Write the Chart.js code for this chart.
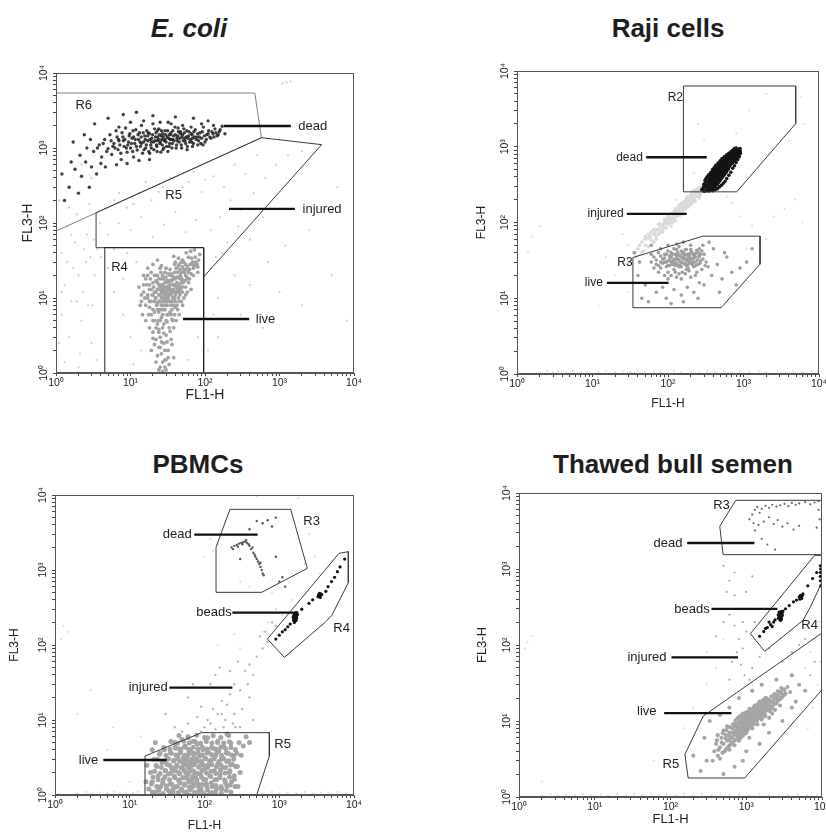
<!DOCTYPE html>
<html>
<head>
<meta charset="utf-8">
<script src="https://cdn.jsdelivr.net/npm/chart.js@4.4.1/dist/chart.umd.min.js"></script>
<style>
  body { margin: 0; width: 826px; height: 832px; background: #fff; position: relative; overflow: hidden;
         font-family: "Liberation Sans", Arial, sans-serif; }
  .title { position: absolute; font-weight: bold; font-size: 26px; line-height: 1; color: #1e1e1e;
           white-space: nowrap; transform: translateX(-50%); }
  canvas { position: absolute; }
</style>
</head>
<body>
<div class="title" style="left:189px;top:15px;font-style:italic">E. coli</div>
<div class="title" style="left:668px;top:15px">Raji cells</div>
<div class="title" style="left:198px;top:451px">PBMCs</div>
<div class="title" style="left:673px;top:451px">Thawed bull semen</div>
<canvas id="c1"></canvas>
<canvas id="c2"></canvas>
<canvas id="c3"></canvas>
<canvas id="c4"></canvas>
<script>
// axis ticks (both axes are FL1-H / FL3-H, log 10^0 .. 10^4)
const decades = [1, 10, 100, 1000, 10000];
const tickLabels = ['10\u2070', '10\u00b9', '10\u00b2', '10\u00b3', '10\u2074'];
const tickValues = [1,2,3,4,5,6,7,8,9,10,20,30,40,50,60,70,80,90,100,200,300,400,500,600,700,800,900,
  1000,2000,3000,4000,5000,6000,7000,8000,9000,10000];

// ---------- E. coli ----------
const ecoliDead = [[3.2,900],[3.8,1100],[4.1,760],[4.5,1300],[5,980],[5.3,1500],[5.6,820],[6,1150],[6.4,1700],[6.8,950],
  [7,1250],[7.5,700],[7.9,1400],[8.2,1050],[8.6,1850],[9,880],[9.4,1200],[9.8,1550],[10,1000],[10.5,1350],[11,760],
  [11.4,1150],[11.8,1750],[12.3,940],[12.8,1300],[13.2,1600],[13.6,1050],[14,2000],[14.5,850],[15,1200],[15.5,1450],
  [16,1000],[16.5,1700],[17,1250],[17.6,900],[18,1550],[18.7,1100],[19.3,1350],[20,2100],[20.6,950],[21.3,1250],
  [22,1600],[22.6,1050],[23.3,1400],[24,1800],[24.8,1150],[25.5,880],[26.3,1300],[27,1550],[28,1000],[29,1700],
  [30,1200],[31,1400],[32,2200],[33,1050],[34,1300],[35,1600],[36.5,1150],[38,1450],[39.5,1900],[41,1000],[42.5,1250],
  [44,1650],[46,1350],[48,1100],[50,1500],[52,1800],[54,1250],[56,1400],[58,1050],[61,1650],[64,1300],[67,1500],
  [70,1150],[74,1750],[78,1400],[82,1250],[86,1600],[90,1350],[95,1900],[100,1200],[106,1500],[112,1700],[120,1350],
  [128,1550],[136,1800],[145,1450],[155,1650],[170,1950],[185,1550],[8,1250],[11,1400],[14,1150],[17,1450],[19,1200],
  [23,1250],[26,1450],[29,1300],[33,1500],[37,1300],[43,1450],[47,1550],[53,1350],[60,1450],[66,1200],[72,1400],
  [5.5,1250],[6.2,1000],[6.6,1400],[7.2,1100],[7.7,1600],[8.4,1300],[8.8,1000],[9.6,1450],[10.3,1150],[10.8,1700],
  [11.6,1300],[12,1050],[12.6,1500],[13.4,1200],[13.9,1400],[14.8,1600],[15.8,1300],[16.3,1100],[17.3,1600],
  [18.3,1300],[19,1000],[19.8,1500],[20.3,1200],[21,1800],[21.7,1400],[22.3,1100],[23,1700],[23.8,1300],[24.5,1500],
  [25.2,1200],[26,1700],[26.7,1100],[27.5,1400],[28.5,1250],[29.5,1500],[30.5,1050],[31.5,1700],[32.5,1350],
  [33.5,1150],[34.5,1500],[35.5,1300],[37,1700],[38.5,1250],[40,1500],[42,1350],[43.5,1850],[45,1200],[47,1650],
  [49,1400],[51,1250],[53,1600],[55,1150],[57,1700],[59,1350],[62,1200],[65,1550],[68,1350],[71,1650],[76,1300],
  [80,1550],[84,1400],[88,1150],[92,1650],[98,1450],[104,1300],[110,1550],[116,1400],[124,1650],[132,1400],
  [140,1600],[150,1500],[160,1750],[3.6,1000],[4.3,1150],[4.8,900],[5.8,1050],[6.9,1300],[7.4,850],[9.2,1100],
  [10.7,900],[15.2,950],[18.1,850],[22.8,900],[27.2,950],[31.8,900],[36,1000],[41.5,1100],[48.5,1000],[57.5,950],
  [68,1050],[80,1100],[94,1100],[7,1900],[10,2200],[15,2300],[25,2200],[35,2100],[50,2000],[65,1900],[90,2100],
  [130,2000],[1.5,300],[1.8,520],[2.2,420],[2.5,650],[2.8,300],[2.1,800],[2.6,1000],[3,560],[3.5,450],[4,620],
  [1.3,200],[1.7,1200],[2.4,1500],[3.3,2100],[5,2500],[8,2800],[12,3000],[20,2700],[40,2600],[70,2500],[110,2300],
  [4.6,560],[6.5,600],[9,620],[13,680],[18,700],[2,250],[1.6,650],[1.2,450],[2.9,1300]];
const ecoliLive = [[15,12],[16,8],[16.5,15],[17,10],[17.5,6],[18,13],[18.5,18],[19,9],[19.5,11],[20,7],[20.5,14],
  [21,20],[21.5,10],[22,12],[22.5,8],[23,16],[23.5,5],[24,11],[24.5,13],[25,9],[25.5,22],[26,12],[26.5,7],[27,15],
  [27.5,10],[28,18],[28.5,11],[29,13],[29.5,8],[30,25],[30.5,12],[31,14],[32,10],[33,17],[34,12],[35,21],[36,9],
  [37,15],[38,13],[39,28],[40,11],[42,19],[44,14],[46,24],[48,16],[50,12],[52,30],[55,20],[58,26],[62,18],[66,34],
  [70,25],[75,30],[80,22],[85,38],[18,4],[20,3.5],[22,2.8],[23,4.5],[24,2.2],[25,3],[26,1.8],[27,4],[28,2.5],
  [29,1.5],[30,3.2],[32,2],[33,1.3],[35,2.8],[38,1.6],[21,5],[26,5.5],[31,4.8],[36,5.2],[19,6],[24,6.5],[28,7],
  [34,6.5],[40,7.5],[45,9],[14,9],[13,14],[15,20],[17,25],[20,28],[23,32],[26,27],[25,1.2],[22,1.4],[30,1.1],
  [21,9],[23,13],[25,11],[27,8],[29,12],[31,9],[33,14],[35,11],[24,15],[28,14],[32,16],[26,18],[30,19],[34,20],
  [22,17],[36,17],[38,19],[40,15],[43,22],[47,20],[20,11],[18,15],[19,22],[27,11.5],[29,9.5],[25,7],[31,6],[35,8],
  [39,10],[42,12],[17,11],[18,9],[19,13],[20,16],[21,12],[22,10],[23,8.5],[23,20],[24,9],[24,18],[25,14],[25,25],
  [26,10],[26,15],[27,13],[27,20],[28,9],[28,12],[29,16],[29,22],[30,10],[30,14],[31,11],[31,17],[32,13],[32,21],
  [33,9],[33,11],[34,15],[34,24],[35,13],[35,17],[36,12],[36,20],[37,10],[37,18],[38,15],[39,12],[39,22],[40,18],
  [41,14],[41,25],[42,16],[43,13],[44,19],[44,27],[45,15],[46,18],[47,13],[48,22],[49,18],[50,26],[51,16],[53,22],
  [54,17],[56,24],[57,19],[60,22],[63,28],[65,21],[68,30],[72,27],[20,5],[21,6.5],[22,4],[23,7],[24,3.5],[25,5],
  [26,8],[27,6],[28,4.5],[29,7],[30,5],[31,8],[32,6],[33,4],[34,9],[35,6],[36,7],[37,5],[38,8],[39,6],[40,9],
  [42,8],[44,10],[46,11],[48,9],[50,14],[19,2],[21,2.4],[23,1.7],[24,3.8],[26,2.6],[27,1.4],[28,3.4],[29,2],
  [31,2.6],[32,1.6],[34,3.6],[36,2.4],[20,2.9],[25,2.2],[30,1.5],[27,1.05],[24,1.1],[29,1.2],[45,28],[50,32],
  [55,28],[60,35],[52,24],[58,18],[62,24],[66,28],[70,20],[74,35],[78,28],[82,32],[48,30],[44,34],[40,30],[38,36],
  [56,40],[64,42],[72,44],[80,26],[45,12],[50,17],[55,14],[60,16],[65,13],[52,10],[58,12],[14,11],[13.5,8],[15,15],
  [14.5,6],[16,18],[15.5,10],[17,20],[16,5],[18,7.5],[45,6],[50,8],[55,11],[43,7],[38,4],[41,5],[47,14]];
const ecoliBg = [[1.1,2.5],[1.2,6],[1.3,15],[1.2,40],[1.4,90],[1.1,200],[1.5,3],[1.6,9],[1.7,25],[1.8,55],[1.9,130],
  [2.1,1.8],[2.2,5],[2.3,12],[2.5,30],[2.6,70],[2.8,180],[3,2.5],[3.1,8],[3.3,20],[3.6,45],[3.9,100],[1.3,1.4],
  [2,1.2],[3.5,1.5],[5,70],[7,100],[10,80],[14,120],[20,65],[28,95],[40,140],[55,75],[75,110],[6,200],[9,160],
  [13,250],[19,200],[27,300],[38,220],[60,350],[90,260],[130,420],[180,300],[250,600],[350,450],[500,800],[120,80],
  [160,120],[220,200],[300,150],[450,250],[650,400],[900,600],[1300,800],[2000,900],[140,35],[200,55],[280,90],
  [400,60],[600,120],[120,25],[170,40],[150,10],[250,20],[400,15],[700,30],[1200,50],[2500,80],[4000,150],
  [6000,300],[150,3],[300,6],[600,4],[1000,12],[2000,8],[5000,20],[8000,5],[60,1.5],[80,3],[110,2],[130,6],[10,3],
  [8,6],[6,12],[12,30],[9,40],[11,1.3],[14,2],[1100,7300],[1250,7500],[1400,7700],[1.2,12],[1.4,30],[1.6,70],
  [2,20],[2.4,45],[2.7,8],[3.2,60],[1.5,160],[1.9,9],[2.9,35],[7,250],[11,180],[16,350],[24,260],[34,400],[50,300],
  [70,480],[100,380],[6,45],[5,25],[8,18],[4,35],[3,400],[2.2,600]];
const ecoliR6 = [[1,5410],[466,5410],[573,1373],[1,78]];
const ecoliR5 = [[3.45,137],[573,1373],[3672,1108],[95.9,19.1],[95.9,46.9],[3.45,46.9]];
const ecoliR4 = [[4.52,1],[4.52,46.9],[95.9,46.9],[95.9,1]];

// ---------- Raji cells ----------
const rajiDead = [[280,270],[300,290],[310,260],[320,300],[330,280],[340,320],[350,300],[355,270],[360,340],[370,310],
  [375,290],[380,360],[390,330],[395,300],[400,380],[405,350],[410,320],[415,400],[420,370],[425,340],[430,420],
  [435,390],[440,360],[445,440],[450,410],[455,380],[460,460],[465,430],[470,400],[480,480],[485,450],[490,420],
  [500,500],[510,470],[520,440],[530,520],[540,490],[550,460],[560,540],[570,510],[580,560],[600,530],[610,580],
  [620,600],[640,560],[650,620],[670,650],[690,620],[700,700],[720,680],[740,750],[760,720],[780,800],[800,780],
  [820,850],[840,820],[860,900],[880,870],[900,950],[830,760],[750,800],[700,640],[650,700],[380,420],[350,380],
  [420,300],[480,380],[520,540],[460,500],[400,440],[440,480],[500,420],[560,500],[600,600],[360,300],[330,350],
  [300,320],[420,440],[470,460],[500,560],[540,600],[580,500],[620,540],[450,330],[390,270],[410,440],[430,380],
  [455,420],[475,440],[510,500],[530,460],[680,720],[720,620],[860,820],[900,870],[800,700],[820,920],[395,360],
  [415,365],[435,410],[445,395],[465,415],[485,470],[505,455],[525,480],[545,520],[445,350],[425,385],[320,380],
  [340,400],[360,420],[380,450],[400,480],[420,510],[440,540],[460,570],[350,260],[370,270],[390,290],[410,300],
  [430,310],[450,320],[470,340],[490,360],[510,380],[530,400],[550,420],[570,440],[590,460],[610,490],[630,510],
  [360,380],[380,400],[400,410],[420,420],[440,430],[460,440],[480,450],[500,470],[520,490],[400,330],[410,350],
  [440,390],[460,390],[480,410],[500,440],[520,460],[540,470],[560,480],[580,520],[600,550],[640,600],[660,580],
  [700,660],[740,700],[780,740],[820,800],[760,830],[720,760],[680,680],[430,470],[470,520],[510,550],[550,580],
  [450,460],[490,500],[530,540],[380,330],[410,380],[450,430],[470,480],[390,400],[420,350],[360,360],[340,340],
  [330,300],[300,300],[310,330],[290,280],[370,420],[400,460],[460,520],[500,520],[300,258],[330,262],[360,265],
  [390,262],[420,270],[450,280],[480,295],[510,310],[540,330],[570,350],[600,380],[640,420],[680,460],[720,520],
  [760,560],[800,620],[840,680],[880,740],[310,360],[330,400],[350,430],[370,460],[390,500],[410,530],[430,570],
  [460,610],[490,650],[520,700],[560,740],[600,780],[640,820],[680,860],[720,900],[760,950],[350,320],[370,345],
  [390,370],[410,395],[450,450],[490,470],[510,490],[530,510],[550,500],[570,530],[590,580],[620,620],[660,640],
  [700,720],[740,780],[780,820],[820,820],[850,860],[880,800],[900,880],[860,780],[840,900],[880,930],[910,820],
  [550,550],[570,575],[590,545],[610,610],[630,580],[650,660],[670,610],[690,690],[710,650],[730,730],[750,690],
  [770,770],[790,740],[810,830],[830,790],[560,600],[580,620],[600,640],[620,660],[640,690],[660,720],[680,750],
  [700,780],[720,810],[740,840],[560,470],[580,490],[600,500],[620,520],[640,540],[660,560],[680,590],[700,610],
  [720,640],[740,660],[760,680],[780,700],[800,730],[620,570],[660,610],[700,650],[740,690],[780,730],[820,770],
  [600,570],[640,630],[680,670],[720,710],[760,750],[800,800],[840,840],[520,520],[540,560],[480,500],[460,470],
  [500,510],[440,450],[420,410],[470,490],[350,425],[375,450],[400,485],[425,505],[450,545],[475,570],[500,600],
  [525,635],[550,660],[575,690],[600,725],[625,750],[650,780],[675,805],[700,840],[725,870],[750,900],[775,930],
  [800,960],[350,305],[375,330],[400,350],[425,375],[450,395],[475,420],[500,440],[525,460],[550,485],[575,505],
  [600,530],[625,550],[650,570],[675,595],[700,615],[725,640],[750,660],[775,680],[800,705],[825,725],[850,745],
  [365,400],[390,430],[415,460],[440,500],[465,520],[490,555],[515,575],[540,610],[565,630],[590,665],[615,690],
  [640,720],[665,745],[690,775],[715,800],[740,830],[765,860]];
const rajiInjured = [[40,45],[45,55],[50,50],[55,62],[60,58],[65,70],[70,66],[75,80],[80,74],[85,90],[90,85],[95,100],
  [100,95],[110,110],[115,100],[120,125],[130,120],[135,140],[140,130],[150,150],[155,140],[160,165],[170,160],
  [175,180],[180,170],[190,195],[200,185],[210,210],[220,200],[230,230],[240,220],[250,250],[260,240],[270,270],
  [280,255],[300,290],[110,90],[125,105],[145,125],[165,150],[185,160],[205,175],[90,100],[105,120],[130,150],
  [150,175],[175,205],[200,230],[60,75],[75,95],[220,250],[250,280],[270,230],[160,130],[180,210],[140,160],
  [120,140],[100,110],[85,75],[70,80],[55,48],[50,65],[65,55],[300,330],[320,270],[240,260],[210,240],[195,215],
  [230,190],[260,210],[45,40],[50,60],[55,70],[60,50],[65,80],[70,60],[75,70],[80,95],[85,80],[90,110],[95,85],
  [100,120],[105,100],[110,130],[115,115],[120,110],[125,150],[130,135],[135,125],[140,170],[145,145],[150,135],
  [155,180],[160,150],[165,190],[170,175],[175,160],[180,220],[185,190],[190,170],[200,210],[205,240],[210,190],
  [215,260],[220,230],[225,210],[230,270],[240,250],[250,220],[260,290],[270,250],[280,300],[290,270],[310,310],
  [330,300],[340,350],[350,320],[35,40],[30,30],[38,35],[42,50],[48,42],[58,65],[68,75],[78,85],[88,95],[98,105],
  [108,115],[118,128],[128,140],[138,150],[148,160],[158,170],[168,182],[178,195],[188,205],[198,220]];
const rajiLive = [[60,30],[65,35],[70,28],[75,40],[80,25],[85,33],[90,38],[95,30],[100,22],[100,42],[105,27],[110,35],
  [115,31],[120,24],[120,45],[125,38],[130,29],[135,33],[140,26],[140,48],[145,36],[150,30],[155,22],[160,40],
  [165,34],[170,28],[175,44],[180,31],[185,25],[190,37],[200,29],[205,41],[210,33],[220,26],[225,36],[230,30],
  [240,43],[250,28],[260,35],[270,31],[280,24],[300,38],[320,30],[340,26],[110,20],[130,19],[150,18],[170,21],
  [200,19],[90,20],[80,45],[100,50],[130,52],[160,55],[200,50],[240,22],[260,45],[290,50],[115,28],[125,32],
  [135,27],[145,30],[155,34],[165,29],[175,32],[185,35],[195,31],[215,30],[105,33],[95,26],[70,32],[75,27],[80,36],
  [85,29],[90,34],[95,38],[100,31],[105,36],[110,30],[115,38],[120,33],[125,27],[130,36],[135,40],[140,32],[145,27],
  [150,35],[155,39],[160,29],[165,37],[170,33],[175,27],[180,38],[185,33],[190,29],[195,39],[200,34],[210,28],
  [215,38],[220,34],[230,39],[235,27],[245,32],[255,36],[265,29],[120,29],[130,33],[140,37],[150,26],[160,33],
  [170,38],[180,27],[190,34],[110,40],[100,27],[90,30],[80,30],[150,42],[170,44],[130,44],[200,44],[230,35],
  [270,38],[290,33],[310,27],[100,18],[140,21],[190,23],[230,20],[75,22],[65,25],[60,38],[250,40],[280,42],
  [125,22],[175,24],[40,20],[45,10],[50,15],[55,9],[70,12],[85,14],[95,10],[120,13],[150,11],[180,14],[220,12],
  [260,16],[300,15],[380,20],[450,28],[520,18],[600,35],[700,22],[900,25],[1100,30],[400,45],[480,12],[36,40],
  [42,30],[60,50],[350,55],[560,40],[800,15],[1300,45],[160,9],[110,8.5],[250,10]];
const rajiBg = [[2,1.05],[2.5,1.1],[3,1.05],[3.5,1.08],[4.5,1.05],[5.5,1.1],[7,1.05],[8.5,1.08],[12,1.05],[15,1.1],
  [20,1.05],[25,1.08],[32,1.05],[40,1.1],[50,1.05],[65,1.08],[80,1.05],[120,1.1],[150,1.05],[200,1.08],[260,1.05],
  [330,1.1],[420,1.05],[550,1.08],[700,1.05],[900,1.1],[1200,1.05],[1600,1.08],[2000,1.05],[2800,1.1],[3600,1.05],
  [4500,1.08],[6000,1.05],[8000,1.1],[1.6,65],[1.4,40],[2,90],[18,110],[25,70],[30,50],[600,220],[700,180],
  [900,120],[1300,90],[2000,60],[1100,45],[2500,120],[3500,150],[4800,200],[6000,100],[800,1500],[1200,3000],
  [2000,5000],[5800,4500],[6300,2000],[4000,1200],[300,1200],[250,2000],[200,700],[220,450],[160,300],[130,200],
  [30,12],[20,20],[15,35],[12,8],[8,15]];
const rajiR2 = [[160,6340],[4910,6340],[4910,2022],[814,254],[160,254]];
const rajiR3 = [[34.3,34.5],[289,66],[1657,66],[1657,28.2],[505,7.5],[34.3,7.5]];

// ---------- PBMCs ----------
const pbmcLive = [[18,1.2],[19,2],[20,1.5],[21,3],[22,1.1],[23,2.4],[24,1.8],[25,3.5],[26,1.3],[27,2.7],[28,1.6],[29,4],
  [30,2.1],[31,1.2],[32,3],[33,1.9],[34,2.5],[35,1.4],[36,3.6],[37,2.2],[38,1.1],[39,2.9],[40,1.7],[41,4.2],[42,2.4],
  [43,1.3],[44,3.2],[45,2],[46,1.5],[47,2.8],[48,3.8],[49,1.2],[50,2.3],[51,1.7],[52,3.1],[53,2.6],[54,1.4],[55,4.5],
  [56,2],[57,1.1],[58,2.9],[59,1.8],[60,3.4],[61,2.3],[62,1.5],[63,2.7],[64,1.2],[65,3.9],[66,2.1],[67,1.6],[68,3],
  [69,2.5],[70,1.3],[72,3.6],[74,2],[76,1.7],[78,2.8],[80,4.8],[82,1.4],[84,2.4],[86,3.3],[88,1.9],[90,1.2],[92,2.7],
  [95,4],[98,1.6],[100,2.2],[103,3.1],[106,1.4],[110,2.5],[114,3.7],[118,1.8],[122,2.9],[126,1.3],[130,4.2],[135,2.1],
  [140,3.3],[145,1.6],[150,2.6],[156,3.9],[162,1.9],[168,3],[175,2.3],[182,4.4],[190,1.5],[198,2.8],[206,3.6],[215,2],
  [225,4.9],[235,2.6],[245,3.3],[260,4],[275,2.4],[290,5],[310,3.4],[25,1],[45,1],[65,1],[85,1],[105,1],[35,1.05],
  [55,1.05],[75,1.05],[95,1.05],[120,1.05],[140,1.1],[170,1.2],[200,1.3],[230,1.5],[40,5],[50,5.5],[60,6],[70,5.2],
  [110,5.8],[150,5],[200,6.5],[20,4],[22,5],[17,2.5],[16.5,1.5],[300,2],[330,4.5],[360,6],[400,5],[250,1.8],[280,1.3],
  [20,1.1],[24.5,1.16],[28,1.05],[33.5,1.13],[38,1.2],[44.5,1.08],[50,1.15],[57.5,1.04],[65,1.18],[74,1.09],
  [84.5,1.14],[96,1.06],[110,1.17],[127,1.08],[145,1.2],[168,1.06],[196,1.15],[226,1.1],[19.5,1.4],[23,1.3],
  [27.5,1.44],[31,1.33],[36.5,1.39],[41,1.28],[47.5,1.45],[54,1.35],[62.5,1.29],[71,1.42],[81.5,1.31],[93,1.38],
  [107,1.3],[124,1.46],[142,1.34],[166,1.29],[190,1.44],[221,1.36],[256,1.3],[20.5,1.72],[24,1.6],[29.5,1.75],
  [34,1.6],[39.5,1.78],[45,1.58],[52.5,1.7],[60,1.62],[69.5,1.77],[79,1.58],[91.5,1.73],[104,1.61],[120.5,1.76],
  [138,1.6],[160.5,1.71],[186,1.58],[216,1.74],[251,1.62],[21.5,2.08],[25.5,1.93],[30,2.12],[35.5,1.95],[40.5,2.1],
  [46.5,1.92],[53,2.14],[61.5,1.98],[70.5,2.1],[80.5,1.94],[92.5,2.12],[106.5,1.96],[122.5,2.08],[141.5,1.93],
  [163.5,2.15],[188.5,1.97],[218.5,2.1],[22.5,2.5],[26.5,2.33],[31.5,2.55],[36,2.35],[42.5,2.5],[48.5,2.3],
  [55.5,2.52],[63,2.36],[72.5,2.55],[83.5,2.34],[95.5,2.5],[109.5,2.32],[125.5,2.54],[144.5,2.38],[166.5,2.5],
  [192.5,2.33],[222.5,2.52],[261,2.4],[23.5,3],[28.5,2.82],[33,3.05],[38.5,2.84],[44,3.02],[51.5,2.8],[58.5,3.06],
  [67.5,2.85],[77.5,3.04],[88.5,2.82],[101.5,3.05],[116.5,2.84],[134.5,3.02],[155.5,2.8],[180.5,3.06],[210.5,2.86],
  [246,3.02],[25.5,3.62],[30.5,3.4],[35,3.66],[41.5,3.42],[47.5,3.62],[54.5,3.4],[62,3.65],[71.5,3.44],[82.5,3.64],
  [94.5,3.41],[108.5,3.63],[125,3.43],[145.5,3.65],[168.5,3.4],[195.5,3.62],[230.5,3.42],[270.5,3.6],[28.5,4.3],
  [34.5,4.08],[40.5,4.35],[46.5,4.1],[53.5,4.32],[61,4.08],[70.5,4.34],[81.5,4.1],[93.5,4.33],[107.5,4.1],
  [123.5,4.3],[142.5,4.08],[165.5,4.35],[192.5,4.12],[225.5,4.3],[35.5,5.15],[43.5,4.9],[52.5,5.2],[62.5,4.92],
  [74.5,5.18],[88.5,4.9],[105.5,5.16],[125.5,4.92],[150.5,5.2],[180.5,4.95],[215.5,5.12],[45.5,6.2],[60.5,5.8],
  [78.5,6.25],[100.5,5.85],[130.5,6.15],[165.5,5.85],[210.5,6.2]];
const pbmcInjured = [[40,8],[60,9],[80,11],[110,10],[130,14],[150,12],[90,15],[170,18],[200,16],[220,22],[120,30],
  [140,40],[250,30],[300,25],[350,45],[400,55],[450,40],[500,70],[600,90],[700,110],[250,12],[180,8],[320,14],
  [280,60],[220,45],[380,30],[550,130],[650,150],[800,200],[900,180],[400,20],[60,20],[70,30],[30,12],[160,50],
  [260,8],[450,10],[50,7],[100,8],[140,7.5],[190,10],[240,9],[300,8],[90,7],[120,9],[170,12]];
const pbmcBeads = [[1550,215],[1580,230],[1600,245],[1620,220],[1640,235],[1660,250],[1680,228],[1700,240],[1610,205],
  [1650,210],[1700,260],[1720,270],[1590,200],[1630,258],[1570,250],[1750,255],[1680,212],[1540,235],[1660,268],
  [1620,232],[1640,245],[1600,225],[1700,225],[3300,440],[3400,470],[3500,455],[3600,480],[3700,470],[3450,490],
  [3550,430],[3350,455],[1200,160],[1300,175],[1400,190],[1000,135],[2000,300],[2500,360],[2800,400],[4500,600],
  [5500,800],[6500,1100],[7500,1400],[5000,700],[6000,950],[900,120],[1100,150],[4200,520]];
const pbmcDead = [[230,2000],[250,2100],[270,2150],[290,2250],[310,2300],[330,2350],[350,2400],[370,2300],[390,2200],
  [360,2500],[400,2100],[420,1900],[450,1700],[470,1600],[500,1400],[520,1300],[540,1200],[560,1100],[580,1000],
  [600,900],[620,850],[240,1900],[280,2050],[320,2200],[440,2000],[480,1500],[560,1250],[300,1400],[500,4500],
  [600,4200],[700,4600],[800,3800],[900,5000],[400,3500],[1000,700],[1100,800],[1200,600],[900,1500]];
const pbmcBg = [[2,1.05],[2.6,1.1],[3.2,1.05],[4,1.08],[5,1.05],[6.2,1.1],[7.5,1.05],[9,1.08],[11,1.05],[13,1.1],
  [600,1.05],[800,1.1],[1000,1.05],[1300,1.08],[1700,1.05],[2200,1.1],[2800,1.05],[3600,1.08],[4600,1.05],[6000,1.1],
  [7800,1.05],[1.3,180],[1.5,150],[1.2,120],[3,25],[2,12],[5,4],[6,8],[10,1.5],[12,3],[14,6],[100,1500],[130,1800],
  [150,2200],[120,2600],[1800,9000],[500,9500],[300,700],[400,600],[800,500],[1500,400],[2500,3000],[3000,1500],
  [3500,900],[900,300],[1100,250],[2200,1200],[600,150],[700,200],[250,140],[150,100],[300,90]];
const pbmcR3 = [[219,6440],[1422,6440],[2377,1052],[582,504],[142.6,504],[142.6,2005]];
const pbmcR4 = [[693,120],[6300,1668],[8400,1755],[8400,678],[5024,246],[4093,200],[1170,68.5]];
const pbmcR5 = [[16,1],[16,3.31],[91.6,6.78],[737,6.78],[737,3.31],[499,1]];

// ---------- Thawed bull semen ----------
const thawLive = [[380,4],[400,5],[420,3.5],[450,4.5],[470,6],[500,5],[520,4],[540,6.5],[560,5.5],[580,4.6],[600,7],
  [620,6],[640,5.2],[660,8],[680,6.8],[700,5.6],[720,7.5],[740,9],[760,6.4],[780,8.2],[800,7],[820,9.8],[840,6],
  [860,8.6],[880,7.4],[900,10.5],[920,8],[940,9.2],[960,6.8],[980,11],[1000,8.8],[1020,10],[1040,7.6],[1060,12],
  [1080,9.4],[1100,10.8],[1130,8.2],[1160,12.5],[1190,10],[1220,11.6],[1250,9],[1280,13.5],[1310,11],[1350,12.6],
  [1390,10],[1430,14.5],[1470,12],[1510,13.6],[1560,11],[1610,15.5],[1660,13],[1720,14.6],[1780,12],[1840,17],
  [1900,14],[1970,16],[2050,13.5],[2130,18],[2220,15.5],[2310,17.5],[2400,20],[2500,17],[2600,22],[2720,19],
  [2850,24],[3000,21],[3150,26],[3300,23],[700,9],[800,11],[900,12.5],[1000,13],[1100,14.5],[600,4.2],[700,4.8],
  [800,5.5],[900,6.4],[1000,7],[1200,8],[1400,9],[1600,10.5],[1300,16],[1500,18],[1800,20],[2000,11],[2200,12.5],
  [500,7.5],[450,3.2],[360,3],[420,6.5],[560,8.5],[1100,6],[1700,9],[2400,14],[2800,16],[3500,28],[3800,24],
  [1050,11.5],[950,10],[850,9.5],[750,7],[650,6.2],[1150,10.5],[1250,12],[1350,13.5],[1450,11],[1550,12.8],
  [1650,15],[1750,11.5],[1950,18],[2150,14.5],[430,4.2],[410,5.6],[485,3.8],[475,5.2],[490,6.9],[545,4.3],[535,5.9],
  [550,7.6],[605,4.8],[595,6.4],[610,8.3],[590,5.6],[665,5.2],[655,7.1],[670,9.1],[650,6.1],[725,5.7],[715,6.6],
  [730,8.5],[720,10.1],[785,6.1],[775,7.7],[790,9.3],[770,10.9],[845,6.6],[835,8.1],[850,9.9],[830,11.6],[855,7.2],
  [905,7.1],[895,8.9],[910,9.7],[890,11.3],[915,7.8],[965,7.5],[955,9.5],[970,10.4],[950,12.1],[975,8.3],
  [1025,8.1],[1015,9.2],[1030,10.7],[1010,12.7],[1035,11.6],[1105,8.7],[1095,9.9],[1110,11.4],[1090,13.3],
  [1115,12.2],[1185,9.3],[1175,10.5],[1190,12.5],[1170,14.1],[1195,11.1],[1265,9.8],[1255,11.3],[1270,13.1],
  [1250,15.1],[1275,12.3],[1355,10.4],[1345,11.9],[1360,14.1],[1340,15.9],[1365,13],[1455,11.1],[1445,13.1],
  [1460,14.9],[1440,16.8],[1565,11.9],[1555,13.9],[1570,15.9],[1550,17.7],[1685,12.7],[1675,14.7],[1690,16.9],
  [1670,18.9],[1825,13.6],[1815,15.7],[1830,17.9],[1810,20.1],[1985,14.6],[1975,16.9],[1990,19.3],[2155,15.6],
  [2145,18.1],[2160,21.1],[2355,16.9],[2345,19.6],[2360,22.6],[2605,18.6],[2595,21.1],[2610,24.6],[2905,20.1],
  [2895,23.1],[2910,27.1],[3205,22.1],[3195,25.6],[280,6],[300,3],[330,10],[450,12],[600,15],[800,20],[1200,25],
  [1600,30],[2500,35],[4000,40],[5000,30],[700,2.5],[900,3],[1500,5],[2000,7],[3000,10],[4500,18],[6000,25],
  [250,2.2],[200,3.5],[1000,4],[500,2],[4000,15]];
const thawBeads = [[2650,225],[2700,240],[2750,255],[2800,230],[2850,245],[2900,262],[2950,238],[3000,250],[2780,215],
  [2870,275],[2720,270],[2920,220],[2830,235],[2760,248],[2980,265],[2640,250],[3050,280],[2850,210],[2700,225],
  [2900,250],[5100,400],[5300,420],[5500,445],[5200,450],[5400,410],[5600,470],[5000,430],[1500,130],[1700,150],
  [1900,170],[2100,185],[2300,200],[2400,215],[3300,300],[3700,330],[4200,370],[4600,390],[6500,600],[7500,750],
  [2200,175],[2000,200],[1800,165],[8500,900],[9500,700],[9500,800],[9500,900],[9600,1000],[9500,1100],[9600,600]];
const thawDead = [[1100,4500],[1200,5200],[1300,6000],[1400,6500],[1600,6200],[1800,6800],[2000,6400],[2200,7000],
  [2500,6600],[2800,6900],[3200,7200],[3600,6700],[4000,7400],[4500,7000],[5000,7300],[6000,7600],[7000,7100],
  [8000,7500],[9000,7800],[1500,5500],[1700,4200],[2000,4800],[2300,3900],[2600,4400],[3000,3600],[3500,4000],
  [4200,3300],[5000,3700],[1300,3200],[1600,2500],[1900,2100],[2400,1800],[9000,6000],[9300,4500],[8500,3500],
  [1250,4000],[1450,3800]];
const thawInjured = [[500,1100],[600,700],[700,450],[800,300],[900,200],[1000,150],[600,250],[700,180],[800,120],
  [900,90],[750,80],[650,60],[850,55],[950,40],[1100,35],[1200,50],[500,200],[450,300],[550,500],[700,900],[400,130],
  [1000,500],[1200,800],[1100,300],[1300,200],[3000,60],[4000,80],[5000,100],[6000,120],[8000,60],[7000,40],[600,35],
  [1500,70],[2000,90]];
const thawBg = [[2,1.05],[2.6,1.1],[3.3,1.05],[4.2,1.08],[5.5,1.05],[7,1.1],[9,1.05],[12,1.08],[15,1.05],[20,1.1],
  [26,1.05],[33,1.08],[42,1.05],[55,1.1],[70,1.05],[90,1.08],[120,1.05],[150,1.1],[200,1.05],[260,1.08],[350,1.05],
  [450,1.1],[600,1.05],[800,1.08],[1100,1.05],[1500,1.1],[2000,1.05],[2700,1.08],[3600,1.05],[4800,1.1],[6400,1.05],
  [8500,1.08],[1.3,110],[1.2,90],[1.5,130],[2,1.6],[60,3],[150,8],[200,15],[300,30],[400,50],[300,80],[500,120],
  [6000,50],[7000,80],[8000,120],[9000,200],[9500,60],[8800,30],[7500,15],[6500,8]];
const thawR3 = [[447,3640],[727,8010],[10000,8010],[10000,1544],[495,1544]];
const thawR4 = [[1135,141],[8000,1513],[10000,1513],[10000,674],[7020,316],[5613,211],[1754,82.6]];
const thawR5 = [[171,1.78],[155,3.64],[270,11.6],[10000,144],[10000,25.8],[955,1.78]];

Chart.defaults.font.family = '"Liberation Sans", Arial, sans-serif';

const toXY = arr => arr.map(([x, y]) => ({x, y}));
const cloud = (arr, color, r) => ({data: toXY(arr), showLine: false, pointRadius: r,
  pointBackgroundColor: color, pointBorderWidth: 0});
const gate = (arr, color) => ({data: toXY(arr.concat([arr[0]])), showLine: true, borderColor: color || '#3a3a3a',
  borderWidth: 1, pointRadius: 0, fill: false, tension: 0});
const pointer = ([x1, x2, y]) => ({data: [{x: x1, y}, {x: x2, y}], showLine: true, borderColor: '#111',
  borderWidth: 2.3, pointRadius: 0, fill: false});

const framePlugin = {
  id: 'frame',
  afterDatasetsDraw(chart) {
    const {ctx, chartArea: a} = chart;
    ctx.save();
    ctx.strokeStyle = '#555';
    ctx.lineWidth = 1;
    ctx.strokeRect(Math.round(a.left) + 0.5, Math.round(a.top) + 0.5,
      Math.round(a.right - a.left) - 1, Math.round(a.bottom - a.top) - 1);
    ctx.restore();
  }
};
const notesPlugin = {
  id: 'notes',
  afterDatasetsDraw(chart, args, opts) {
    const {ctx, scales: {x, y}} = chart;
    ctx.save();
    ctx.font = opts.size + 'px "Liberation Sans", Arial, sans-serif';
    ctx.fillStyle = '#222';
    ctx.textBaseline = 'middle';
    (opts.items || []).forEach(n => {
      ctx.textAlign = n[3];
      ctx.fillText(n[0], x.getPixelForValue(n[1]), y.getPixelForValue(n[2]));
    });
    ctx.restore();
  }
};

function axis(which, label, size, titleSize) {
  const isX = which === 'x';
  return {
    type: 'logarithmic', min: 1, max: 10000, position: isX ? 'bottom' : 'left',
    afterBuildTicks: s => { s.ticks = tickValues.map(v => ({value: v, major: decades.includes(v)})); },
    afterFit: s => {
      if (isX) s.height = size; else s.width = size;
      s.paddingLeft = 0; s.paddingRight = 0; s.paddingTop = 0; s.paddingBottom = 0;
    },
    grid: {drawOnChartArea: false, drawTicks: true, tickLength: 3, color: '#444'},
    border: {display: true, color: '#555', width: 1},
    ticks: {
      autoSkip: false, color: '#222', font: {size: 10.5}, padding: 1,
      minRotation: isX ? 0 : 90, maxRotation: isX ? 0 : 90, crossAlign: isX ? 'near' : 'center',
      callback: v => { const i = decades.indexOf(v); return i < 0 ? '' : tickLabels[i]; }
    },
    title: {display: true, text: label, color: '#222', padding: 0, font: {size: titleSize, lineHeight: 1}}
  };
}

function panel(p) {
  const c = document.getElementById(p.id);
  const [cl, ct, cw, ch] = p.box;
  const [al, at, ar, ab] = p.area;
  c.width = cw; c.height = ch;
  c.style.left = cl + 'px'; c.style.top = ct + 'px';
  c.style.width = cw + 'px'; c.style.height = ch + 'px';
  const half = p.titleSize / 2;
  const padL = p.yTitle - cl - half;
  const padB = Math.max(0, ct + ch - p.xTitle - half);
  new Chart(c, {
    type: 'scatter',
    data: {datasets: p.layers.slice().reverse()},
    options: {
      responsive: false, animation: false, events: [],
      layout: {padding: {left: padL, top: at - ct, right: cl + cw - ar, bottom: padB}},
      plugins: {legend: {display: false}, tooltip: {enabled: false}, notes: {items: p.notes, size: p.noteSize}},
      scales: {
        x: axis('x', 'FL1-H', ct + ch - padB - ab, p.titleSize),
        y: axis('y', 'FL3-H', al - cl - padL, p.titleSize)
      }
    },
    plugins: [framePlugin, notesPlugin]
  });
}

panel({
  id: 'c1', box: [0, 50, 413, 360], area: [56, 73, 354, 373], yTitle: 28, xTitle: 395, titleSize: 14, noteSize: 13,
  layers: [
    cloud(ecoliBg, '#cfcfcf', 1.1), cloud(ecoliLive, '#a2a2a2', 1.9), cloud(ecoliDead, 'rgba(30,30,30,0.85)', 1.7),
    gate(ecoliR6, '#808080'), gate(ecoliR5), gate(ecoliR4, '#222'),
    pointer([180, 1420, 1964]), pointer([210, 1608, 154]), pointer([50.6, 391, 5.25])
  ],
  notes: [['dead', 1783, 1964, 'left'], ['injured', 2040, 154, 'left'], ['live', 481, 5.25, 'left'],
    ['R6', 1.82, 3706, 'left'], ['R5', 29.3, 234, 'left'], ['R4', 5.5, 25.9, 'left']]
});

panel({
  id: 'c2', box: [413, 50, 413, 360], area: [517, 71, 819, 374], yTitle: 482, xTitle: 405, titleSize: 12, noteSize: 12,
  layers: [
    cloud(rajiBg, '#dedede', 1.1), cloud(rajiInjured, '#dadada', 1.8), cloud(rajiLive, '#9e9e9e', 1.8),
    cloud(rajiDead, '#151515', 1.8), gate(rajiR2), gate(rajiR3),
    pointer([51.4, 326, 727]), pointer([28.5, 177, 130]), pointer([15.5, 101.6, 16])
  ],
  notes: [['dead', 46.5, 727, 'right'], ['injured', 25.8, 130, 'right'], ['live', 13.7, 16, 'right'],
    ['R2', 158, 4450, 'right'], ['R3', 34, 29.7, 'right']]
});

panel({
  id: 'c3', box: [0, 470, 413, 362], area: [55, 495, 354, 795], yTitle: 15, xTitle: 826, titleSize: 12, noteSize: 13,
  layers: [
    cloud(pbmcBg, '#dcdcdc', 1.1), cloud(pbmcInjured, '#b5b5b5', 1.2), cloud(pbmcLive, '#a5a5a5', 2.5),
    cloud(pbmcDead, '#555', 1.2), cloud(pbmcBeads, '#111', 1.6),
    gate(pbmcR3), gate(pbmcR4), gate(pbmcR5),
    pointer([73, 514, 2960]), pointer([236, 1660, 270]), pointer([33.9, 236, 27]), pointer([4.43, 31.2, 2.93])
  ],
  notes: [['dead', 67.3, 2960, 'right'], ['beads', 231, 270, 'right'], ['injured', 32.2, 27, 'right'],
    ['live', 3.8, 2.93, 'right'], ['R3', 2100, 4410, 'left'], ['R4', 5290, 167, 'left'], ['R5', 860, 4.79, 'left']]
});

panel({
  id: 'c4', box: [413, 470, 413, 362], area: [519, 493, 822, 797], yTitle: 482, xTitle: 819, titleSize: 13, noteSize: 13,
  layers: [
    cloud(thawBg, '#dcdcdc', 1.1), cloud(thawInjured, '#a8a8a8', 1.1), cloud(thawLive, '#a5a5a5', 2.1),
    cloud(thawDead, '#666', 1.1), cloud(thawBeads, '#111', 1.6),
    gate(thawR3), gate(thawR4), gate(thawR5),
    pointer([166, 1282, 2198]), pointer([347, 2577, 298]), pointer([103, 780, 68.8]), pointer([82.5, 637, 12.7])
  ],
  notes: [['dead', 144, 2198, 'right'], ['beads', 330, 298, 'right'], ['injured', 88.5, 68.8, 'right'],
    ['live', 65.4, 13.5, 'right'], ['R3', 606, 6890, 'right'], ['R4', 5340, 181, 'left'], ['R5', 78.5, 2.69, 'left']]
});
</script>
</body>
</html>
